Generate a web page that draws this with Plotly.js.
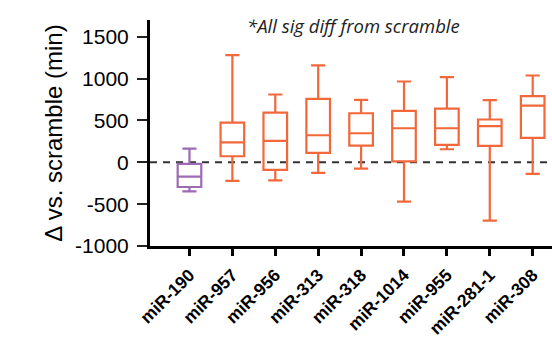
<!DOCTYPE html>
<html>
<head>
<meta charset="utf-8">
<script src="https://cdn.plot.ly/plotly-3.0.1.min.js"></script>
<style>html,body{margin:0;padding:0;background:#fff;}#chart{width:552px;height:339px;}</style>
</head>
<body>
<div id="chart"></div>
<script>
// Data
var categories = ["miR-190","miR-957","miR-956","miR-313","miR-318","miR-1014","miR-955","miR-281-1","miR-308"];
var lowerWhisker = [-347, -223, -215, -127, -75, -470, 156, -697, -139];
var q1Values     = [-295, 72, -91, 112, 200, 12, 208, 196, 292];
var medianValues = [-171, 239, 256, 323, 347, 407, 407, 431, 678];
var q3Values     = [-19, 475, 594, 758, 586, 615, 642, 511, 790];
var upperWhisker = [164, 1280, 810, 1157, 746, 965, 1017, 742, 1037];
var yTickVals = [-1000, -500, 0, 500, 1000, 1500];

var PURPLE = "#9d6ab4";
var ORANGE = "#f2683b";

var traces = categories.map(function(cat, i){
  var col = i === 0 ? PURPLE : ORANGE;
  return {
    type: "box",
    x: [cat],
    q1: [q1Values[i]],
    median: [medianValues[i]],
    q3: [q3Values[i]],
    lowerfence: [lowerWhisker[i]],
    upperfence: [upperWhisker[i]],
    width: 0.55,
    whiskerwidth: 0.6,
    line: {color: col, width: 2.2},
    fillcolor: "rgba(255,255,255,0)",
    boxpoints: false,
    showlegend: false,
    hoverinfo: "skip"
  };
});

var layout = {
  width: 552, height: 339,
  margin: {l: 150, r: 0, t: 20, b: 93},
  paper_bgcolor: "#fff", plot_bgcolor: "#fff",
  font: {family: "Liberation Sans, Arial, sans-serif", color: "#000"},
  xaxis: {
    type: "category",
    categoryorder: "array", categoryarray: categories,
    range: [-0.92, 8.45],
    showline: true, linecolor: "#000", linewidth: 3,
    ticks: "outside", ticklen: 7, tickwidth: 3, tickcolor: "#000",
    tickangle: -45,
    ticklabelstandoff: 2,
    tickfont: {family: "Liberation Sans, Arial, sans-serif", size: 17.5, color: "#000", weight: "bold"},
    showgrid: false, zeroline: false
  },
  yaxis: {
    range: [-1000, 1700],
    tickvals: yTickVals,
    ticktext: yTickVals.map(String),
    showline: true, linecolor: "#000", linewidth: 3,
    ticks: "outside", ticklen: 10, tickwidth: 2, tickcolor: "#222",
    ticklabelstandoff: 4,
    tickfont: {family: "Liberation Sans, Arial, sans-serif", size: 21, color: "#000"},
    showgrid: false, zeroline: false,
    title: {text: "\u0394 vs. scramble (min)", font: {family: "Liberation Sans, Arial, sans-serif", size: 24, color: "#000"}, standoff: 6}
  },
  shapes: [{
    type: "line", xref: "paper", x0: 0, x1: 1, yref: "y", y0: 0, y1: 0,
    line: {color: "#333", width: 2, dash: "7px,6px"}, layer: "below"
  }],
  annotations: [{
    text: "<i>*All sig diff from scramble</i>",
    xref: "paper", yref: "paper", x: 0.505, y: 0.975,
    xanchor: "center", yanchor: "middle", showarrow: false,
    font: {family: "Open Sans, sans-serif", size: 18.5, color: "#222"}
  }]
};

Plotly.newPlot("chart", traces, layout, {displayModeBar: false, staticPlot: true});
</script>
</body>
</html>
